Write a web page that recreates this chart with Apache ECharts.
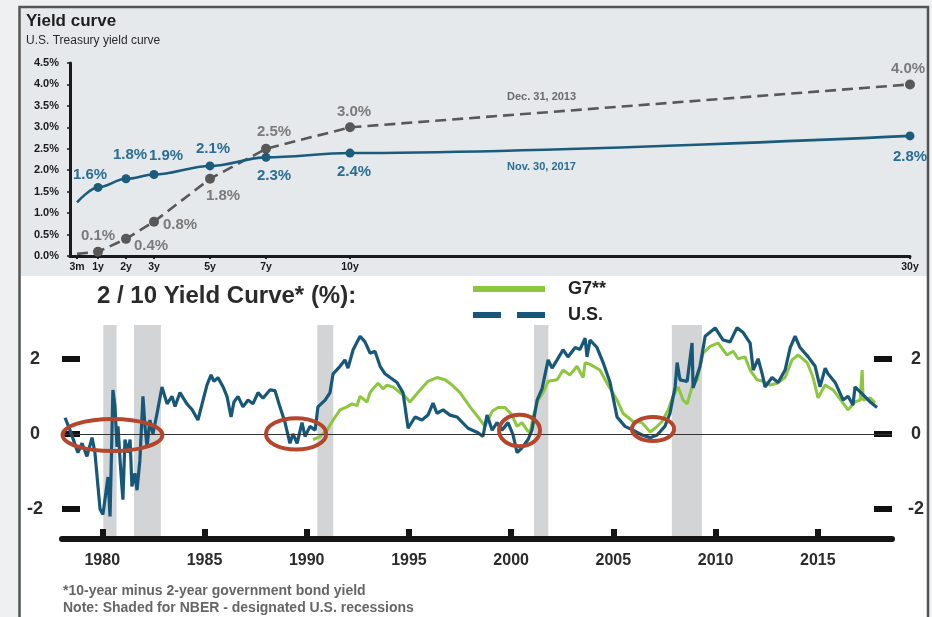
<!DOCTYPE html>
<html>
<head>
<meta charset="utf-8">
<title>Yield curve</title>
<script src="https://cdn.jsdelivr.net/npm/echarts@6/dist/echarts.min.js"></script>
<style>
  html, body { margin: 0; padding: 0; background: #eff0f1; }
  #chart { width: 932px; height: 617px; }
</style>
</head>
<body>
<div id="chart"></div>
<script>
// ---- U.S. Treasury yield curve (top panel) ----
const maturities = [0.25, 1, 2, 3, 5, 7, 10, 30];
const maturityLabels = ['3m', '1y', '2y', '3y', '5y', '7y', '10y', '30y'];
const yieldsNov2017 = [1.25, 1.6, 1.8, 1.9, 2.1, 2.3, 2.4, 2.8];
const yieldsDec2013 = [0.05, 0.1, 0.4, 0.8, 1.8, 2.5, 3.0, 4.0];

// ---- 10y minus 2y spread (bottom panel) ----
const usYears = [
  1978.18, 1978.42, 1978.81, 1979.01, 1979.25, 1979.50, 1979.64, 1979.89, 1980.03, 1980.28,
  1980.38, 1980.52, 1980.62, 1980.72, 1980.77, 1980.87, 1980.96, 1981.01, 1981.11, 1981.26,
  1981.36, 1981.45, 1981.60, 1981.70, 1981.84, 1981.99, 1982.09, 1982.19, 1982.33, 1982.48,
  1982.68, 1982.92, 1983.17, 1983.41, 1983.56, 1983.80, 1984.14, 1984.39, 1984.68, 1984.93,
  1985.12, 1985.32, 1985.46, 1985.66, 1985.91, 1986.10, 1986.30, 1986.44, 1986.64, 1986.88,
  1987.13, 1987.37, 1987.62, 1987.86, 1988.20, 1988.45, 1988.69, 1988.94, 1989.18, 1989.33,
  1989.53, 1989.77, 1989.92, 1990.16, 1990.41, 1990.55, 1990.90, 1991.14, 1991.29, 1991.63,
  1991.87, 1992.02, 1992.27, 1992.61, 1992.85, 1993.10, 1993.34, 1993.59, 1993.83, 1994.08,
  1994.42, 1994.71, 1994.96, 1995.30, 1995.64, 1995.93, 1996.18, 1996.37, 1996.67, 1997.01,
  1997.35, 1997.89, 1998.38, 1998.62, 1998.82, 1999.07, 1999.31, 1999.55, 1999.85, 2000.09,
  2000.29, 2000.53, 2000.83, 2001.02, 2001.27, 2001.51, 2001.81, 2002.00, 2002.25, 2002.54,
  2002.78, 2003.13, 2003.37, 2003.62, 2003.71, 2003.86, 2004.20, 2004.50, 2004.84, 2005.18,
  2005.57, 2005.96, 2006.40, 2006.80, 2007.14, 2007.52, 2007.77, 2008.02, 2008.12, 2008.26,
  2008.61, 2008.85, 2008.90, 2009.24, 2009.49, 2009.98, 2010.37, 2010.71, 2011.05, 2011.35,
  2011.69, 2011.84, 2012.08, 2012.28, 2012.42, 2012.76, 2013.06, 2013.40, 2013.65, 2013.89,
  2014.13, 2014.53, 2014.87, 2015.11, 2015.36, 2015.50, 2015.85, 2016.24, 2016.48, 2016.72,
  2016.82, 2017.22, 2017.56, 2017.90
];
const usSpread = [
  0.43, 0.10, -0.50, -0.25, -0.60, -0.10, -0.50, -2.00, -2.15, -1.15,
  -2.20, 1.17, 0.75, -0.35, 0.20, -0.70, -1.40, -1.75, -0.15, -0.50,
  -0.15, -1.40, -1.05, -1.50, -0.70, 1.00, 0.20, -0.35, 0.37, 0.00,
  0.55, 1.25, 0.80, 1.00, 0.73, 1.10, 0.80, 0.65, 0.37, 0.90,
  1.30, 1.57, 1.40, 1.50, 1.25, 1.00, 0.45, 0.85, 1.00, 0.72,
  0.90, 0.80, 1.10, 0.95, 1.17, 1.15, 0.72, 0.30, -0.25, 0.00,
  -0.25, 0.30, -0.07, 0.20, 0.10, 0.72, 0.90, 1.10, 1.60, 1.80,
  1.97, 1.75, 2.24, 2.60, 2.45, 2.15, 2.20, 1.80, 1.60, 1.50,
  1.37, 1.10, 0.15, 0.45, 0.37, 0.50, 0.82, 0.55, 0.64, 0.50,
  0.45, 0.15, 0.03, -0.07, 0.50, 0.10, 0.30, 0.10, 0.30, -0.02,
  -0.50, -0.37, -0.15, 0.10, 0.90, 1.20, 1.97, 1.75, 1.97, 2.24,
  2.05, 2.30, 2.25, 2.55, 2.05, 2.50, 2.30, 1.90, 1.37, 0.45,
  0.20, 0.10, -0.03, -0.10, -0.03, 0.20, 0.55, 1.25, 1.90, 1.44,
  1.40, 2.42, 1.22, 1.80, 2.60, 2.82, 2.50, 2.45, 2.83, 2.70,
  2.42, 1.70, 2.00, 1.60, 1.25, 1.50, 1.37, 1.70, 2.30, 2.60,
  2.30, 2.05, 1.80, 1.25, 1.75, 1.60, 1.37, 0.90, 1.00, 0.77,
  1.25, 1.04, 0.85, 0.70
];
const g7Years = [
  1990.31, 1990.65, 1990.99, 1991.29, 1991.63, 1991.97, 1992.22, 1992.46, 1992.61, 1992.95,
  1993.10, 1993.24, 1993.49, 1993.73, 1993.93, 1994.22, 1994.56, 1994.81, 1995.05, 1995.44,
  1995.93, 1996.37, 1996.77, 1997.11, 1997.50, 1997.99, 1998.38, 1998.72, 1999.07, 1999.36,
  1999.70, 2000.04, 2000.29, 2000.53, 2000.78, 2000.93, 2001.07, 2001.32, 2001.56, 2001.81,
  2002.25, 2002.54, 2002.88, 2003.22, 2003.52, 2003.62, 2003.86, 2004.34, 2004.74, 2005.18,
  2005.47, 2005.96, 2006.40, 2006.80, 2007.04, 2007.38, 2007.68, 2007.92, 2008.17, 2008.41,
  2008.61, 2008.85, 2009.10, 2009.39, 2009.73, 2010.12, 2010.56, 2010.86, 2011.10, 2011.44,
  2011.69, 2012.03, 2012.32, 2012.67, 2013.01, 2013.40, 2013.74, 2014.04, 2014.48, 2014.77,
  2015.01, 2015.36, 2015.75, 2016.19, 2016.48, 2016.82, 2017.07, 2017.17, 2017.22, 2017.56,
  2017.80
];
const g7Spread = [
  -0.15, -0.07, 0.10, 0.37, 0.64, 0.72, 0.80, 0.75, 1.00, 0.85,
  1.10, 1.20, 1.35, 1.20, 1.30, 1.25, 1.10, 1.00, 0.85, 1.10,
  1.40, 1.50, 1.44, 1.30, 1.10, 0.72, 0.45, 0.20, 0.60, 0.70,
  0.70, 0.50, 0.20, 0.30, 0.10, 0.02, 0.45, 0.90, 1.10, 1.40,
  1.44, 1.70, 1.57, 1.80, 1.50, 1.90, 1.85, 1.70, 1.30, 0.90,
  0.55, 0.33, 0.30, 0.05, 0.15, 0.33, 0.64, 1.00, 1.25, 0.90,
  0.80, 1.25, 1.44, 2.15, 2.33, 2.42, 2.10, 2.20, 2.00, 2.05,
  1.70, 1.44, 1.40, 1.30, 1.35, 1.50, 1.97, 2.10, 1.90, 1.50,
  0.96, 1.30, 1.17, 0.85, 0.64, 0.85, 0.90, 1.70, 0.90, 0.96,
  0.83
];
// NBER recession spans (start year, end year)
const recessions = [
  [1980.05, 1980.70], [1981.55, 1982.87], [1990.52, 1991.30],
  [2001.12, 2001.82], [2007.86, 2009.33]
];
// Curve-inversion episodes circled on the chart: [from year, to year, low, high]
const inversionWindows = [
  [1977.96, 1983.04, -0.51, 0.45],
  [1987.91, 1991.05, -0.47, 0.47],
  [1999.31, 2001.51, -0.38, 0.56],
  [2005.81, 2008.07, -0.24, 0.50]
];

const FONT = '"Liberation Sans", Arial, Helvetica, sans-serif';
const TEAL = '#1b5b7b';
const TEAL_TEXT = '#2a6d91';
const GREY = '#585858';
const GREY_TEXT = '#7a7a7a';
const US_BLUE = '#17587a';
const G7_GREEN = '#8dc63f';

// label placement around each yield point, in pixels from the dot
const novLabelOffsets = [null, [-8, -13], [4, -24], [12, -19], [3, -17], [8, 19], [4, 19], [0, 21]];
const decLabelOffsets = [null, [0, -16], [25, 7], [26, 3], [13, 17], [8, -17], [4, -15], [-2, -16]];

function curveData(values, offsets, color) {
  return maturities.map((m, i) => {
    const item = { value: [m, values[i]] };
    if (!offsets[i]) {
      item.symbol = 'none';
      item.label = { show: false };
    } else {
      item.label = {
        show: true, position: 'inside', offset: offsets[i],
        color: color, fontSize: 15, fontWeight: 'bold', fontFamily: FONT,
        formatter: p => p.value[1].toFixed(1) + '%'
      };
    }
    return item;
  });
}

const chart = echarts.init(document.getElementById('chart'), null, { renderer: 'canvas' });

const option = {
  animation: false,
  backgroundColor: '#eff0f1',
  textStyle: { fontFamily: FONT },
  title: [
    {
      text: 'Yield curve', subtext: 'U.S. Treasury yield curve',
      left: 26, top: 13, padding: 0, itemGap: 5,
      textStyle: { fontSize: 17, fontWeight: 'bold', color: '#1e1e1e', fontFamily: FONT },
      subtextStyle: { fontSize: 12, color: '#2b2b2b', fontFamily: FONT }
    },
    {
      text: '2 / 10 Yield Curve* (%):',
      left: 97, top: 284, padding: 0,
      textStyle: { fontSize: 24, fontWeight: 'bold', color: '#2b2b2b', fontFamily: FONT }
    }
  ],
  legend: {
    data: [
      { name: 'G7**', icon: 'rect' },
      { name: 'U.S.', icon: 'path://M0,0H28V6H0Z M44,0H72V6H44Z' }
    ],
    orient: 'vertical', left: 473, top: 278, padding: 0,
    itemWidth: 72, itemHeight: 6, itemGap: 4,
    selectedMode: false,
    textStyle: {
      fontSize: 18, fontWeight: 'bold', color: '#222', fontFamily: FONT,
      lineHeight: 22, padding: [0, 0, 0, 18]
    }
  },
  graphic: [
    { type: 'rect', id: 'topPanel', z: -10, silent: true,
      shape: { x: 21, y: 8, width: 906, height: 268 }, style: { fill: '#e6e9ec' } },
    { type: 'rect', id: 'bottomPanel', z: -10, silent: true,
      shape: { x: 21, y: 276, width: 906, height: 345 }, style: { fill: '#ffffff' } },
    { type: 'rect', id: 'frame', z: 50, silent: true,
      shape: { x: 19.5, y: 7, width: 908.5, height: 700 },
      style: { fill: 'none', stroke: '#555', lineWidth: 2.5 } },
    { type: 'text', id: 'decTag', silent: true, left: 507, top: 91,
      style: { text: 'Dec. 31, 2013', fill: '#6a6a6a', font: 'bold 11px ' + FONT } },
    { type: 'text', id: 'novTag', silent: true, left: 507, top: 161,
      style: { text: 'Nov. 30, 2017', fill: TEAL_TEXT, font: 'bold 11px ' + FONT } },
    { type: 'text', id: 'note1', silent: true, left: 63, top: 584,
      style: { text: '*10-year minus 2-year government bond yield', fill: '#666', font: 'bold 14px ' + FONT } },
    { type: 'text', id: 'note2', silent: true, left: 63, top: 601,
      style: { text: 'Note: Shaded for NBER - designated U.S. recessions', fill: '#666', font: 'bold 14px ' + FONT } }
  ],
  grid: [
    { left: 70, right: 22, top: 63, bottom: 361, outerBoundsMode: 'none' },
    { left: 62, right: 40, top: 325, bottom: 78, outerBoundsMode: 'none' }
  ],
  xAxis: [
    {
      type: 'value', gridIndex: 0, min: 0, max: 30,
      splitLine: { show: false },
      axisLine: { show: true, lineStyle: { color: '#1a1a1a', width: 3 } },
      axisTick: { show: true, customValues: maturities, length: 3, lineStyle: { color: '#1a1a1a', width: 2 } },
      axisLabel: {
        customValues: maturities, margin: 6,
        color: '#1a1a1a', fontSize: 10.5, fontWeight: 'bold', fontFamily: FONT,
        formatter: v => maturityLabels[maturities.indexOf(v)] || ''
      }
    },
    {
      type: 'value', gridIndex: 1, min: 1978.03, max: 2018.63, z: 4,
      splitLine: { show: false },
      axisLine: { show: true, onZero: false, lineStyle: { color: '#151515', width: 6 } },
      axisTick: {
        show: true, inside: true, length: 10,
        customValues: [1980, 1985, 1990, 1995, 2000, 2005, 2010, 2015],
        lineStyle: { color: '#151515', width: 6 }
      },
      axisLabel: {
        customValues: [1980, 1985, 1990, 1995, 2000, 2005, 2010, 2015], margin: 14,
        color: '#2b2b2b', fontSize: 16, fontWeight: 'bold', fontFamily: FONT,
        formatter: v => String(v)
      }
    }
  ],
  yAxis: [
    {
      type: 'value', gridIndex: 0, min: 0, max: 4.5, interval: 0.5,
      splitLine: { show: false },
      axisLine: { show: true, lineStyle: { color: '#1a1a1a', width: 3 } },
      axisTick: { show: true, length: 3, lineStyle: { color: '#1a1a1a', width: 1.5 } },
      axisLabel: {
        margin: 11, color: '#1a1a1a', fontSize: 11, fontWeight: 'bold', fontFamily: FONT,
        formatter: v => v.toFixed(1) + '%'
      }
    },
    {
      type: 'value', gridIndex: 1, min: -2.8, max: 2.9, position: 'left',
      splitLine: { show: false },
      axisLine: { show: false },
      axisTick: { show: true, inside: true, length: 18, customValues: [-2, 0, 2], lineStyle: { color: '#111', width: 6 } },
      axisLabel: {
        customValues: [-2, 0, 2], margin: 27, align: 'center',
        color: '#2b2b2b', fontSize: 18, fontWeight: 'bold', fontFamily: FONT
      }
    },
    {
      type: 'value', gridIndex: 1, min: -2.8, max: 2.9, position: 'right',
      splitLine: { show: false },
      axisLine: { show: false },
      axisTick: { show: true, inside: true, length: 18, customValues: [-2, 0, 2], lineStyle: { color: '#111', width: 6 } },
      axisLabel: {
        customValues: [-2, 0, 2], margin: 24, align: 'center',
        color: '#2b2b2b', fontSize: 18, fontWeight: 'bold', fontFamily: FONT
      }
    }
  ],
  series: [
    {
      name: 'Dec. 31, 2013', type: 'line', xAxisIndex: 0, yAxisIndex: 0,
      data: curveData(yieldsDec2013, decLabelOffsets, GREY_TEXT),
      symbol: 'circle', symbolSize: 10, z: 3,
      lineStyle: { color: GREY, width: 2.6, type: [11, 6] },
      itemStyle: { color: GREY }
    },
    {
      name: 'Nov. 30, 2017', type: 'line', xAxisIndex: 0, yAxisIndex: 0,
      data: curveData(yieldsNov2017, novLabelOffsets, TEAL_TEXT),
      smooth: 0.35, smoothMonotone: 'x',
      symbol: 'circle', symbolSize: 9, z: 4,
      lineStyle: { color: TEAL, width: 2.6 },
      itemStyle: { color: TEAL }
    },
    {
      name: 'recessions', type: 'line', xAxisIndex: 1, yAxisIndex: 1, data: [], z: 1,
      silent: true,
      markArea: {
        silent: true,
        itemStyle: { color: '#d3d4d6' },
        data: recessions.map(r => [{ xAxis: r[0] }, { xAxis: r[1] }])
      }
    },
    {
      name: 'G7**', type: 'line', xAxisIndex: 1, yAxisIndex: 1, z: 3,
      data: g7Years.map((y, i) => [y, g7Spread[i]]),
      showSymbol: false, symbol: 'none',
      lineStyle: { color: G7_GREEN, width: 3 },
      itemStyle: { color: G7_GREEN },
      markLine: {
        silent: true, symbol: ['none', 'none'], label: { show: false },
        lineStyle: { color: '#333', width: 1, type: 'solid' },
        data: [{ yAxis: 0 }]
      }
    },
    {
      name: 'U.S.', type: 'line', xAxisIndex: 1, yAxisIndex: 1, z: 4,
      data: usYears.map((y, i) => [y, usSpread[i]]),
      showSymbol: false, symbol: 'none',
      lineStyle: { color: US_BLUE, width: 3.2 },
      itemStyle: { color: US_BLUE }
    },
    {
      name: 'inversions', type: 'custom', xAxisIndex: 1, yAxisIndex: 1, z: 6,
      silent: true, clip: false,
      data: inversionWindows,
      encode: { x: [0, 1], y: [2, 3] },
      renderItem: (params, api) => {
        const a = api.coord([api.value(0), api.value(3)]);
        const b = api.coord([api.value(1), api.value(2)]);
        return {
          type: 'ellipse',
          shape: {
            cx: (a[0] + b[0]) / 2, cy: (a[1] + b[1]) / 2,
            rx: Math.abs(b[0] - a[0]) / 2 - 2, ry: Math.abs(b[1] - a[1]) / 2 - 2
          },
          style: { fill: 'none', stroke: '#b5462b', lineWidth: 4 }
        };
      }
    }
  ]
};

chart.setOption(option);
</script>
</body>
</html>
